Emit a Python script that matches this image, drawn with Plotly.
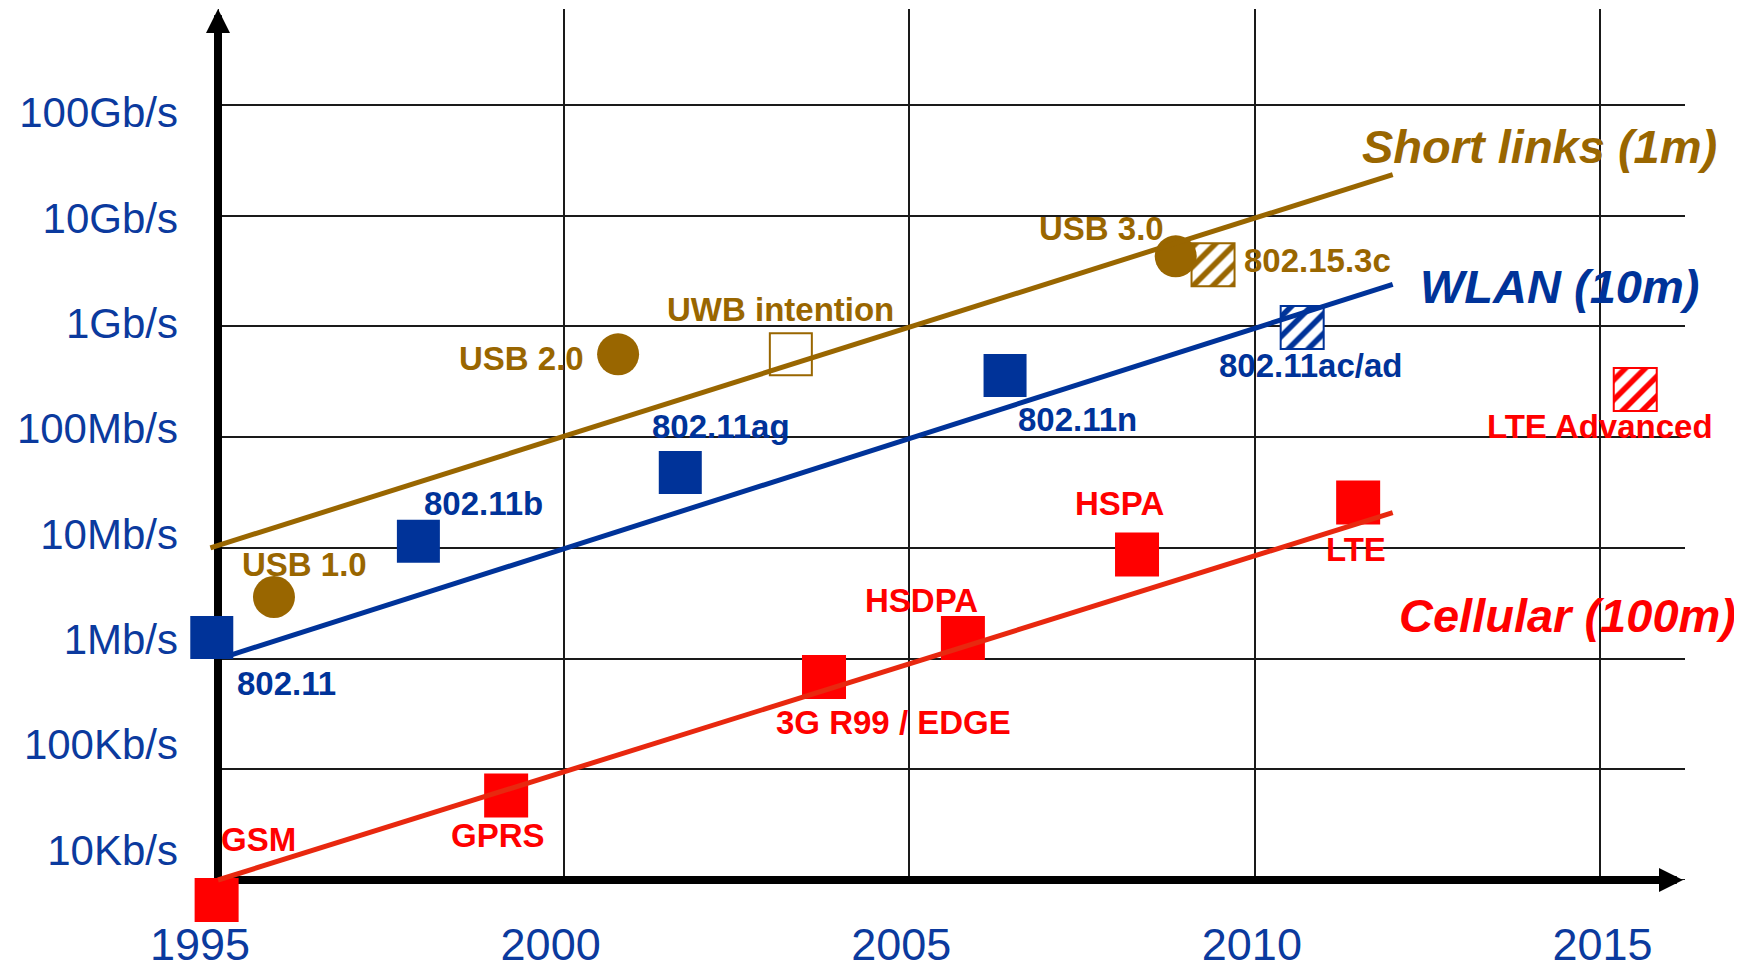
import numpy as np
import plotly.graph_objects as go

BROWN = '#996600'
BLUE = '#003399'
RED = '#FF0000'
RED_LINE = '#E8280F'
TICK_BLUE = '#0B3A9E'
FONT = 'Liberation Sans, Arial, sans-serif'

# axis ticks
year_ticks = [1995, 2000, 2005, 2010, 2015]
year_labels = ['1995', '2000', '2005', '2010', '2015']
rate_ticks = [1e4, 1e5, 1e6, 1e7, 1e8, 1e9, 1e10, 1e11]
rate_labels = ['10Kb/s', '100Kb/s', '1Mb/s', '10Mb/s', '100Mb/s', '1Gb/s', '10Gb/s', '100Gb/s']

# trend lines (start, end)
short_trend_year = [1994.89, 2012.0]
short_trend_rate = [1.0e7, 2.35e10]
wlan_trend_year = [1995.17, 2012.0]
wlan_trend_rate = [1.07e6, 2.4e9]
cell_trend_year = [1995.0, 2012.0]
cell_trend_rate = [1.0e4, 2.08e7]

# short links (1m)
usb_names = ['USB 1.0', 'USB 2.0', 'USB 3.0']
usb_year = [1995.81, 2000.79, 2008.86]
usb_rate = [3.6e6, 5.6e8, 4.3e9]
uwb_names = ['UWB intention']
uwb_year = [2003.29]
uwb_rate = [5.6e8]
sl_next_names = ['802.15.3c']
sl_next_year = [2009.40]
sl_next_rate = [3.6e9]

# WLAN (10m)
wlan_names = ['802.11', '802.11b', '802.11ag', '802.11n']
wlan_year = [1994.91, 1997.90, 2001.69, 2006.39]
wlan_rate = [1.55e6, 1.15e7, 4.8e7, 3.6e8]
wlan_next_names = ['802.11ac/ad']
wlan_next_year = [2010.69]
wlan_next_rate = [9.8e8]

# Cellular (100m)
cell_names = ['GSM', 'GPRS', '3G R99 / EDGE', 'HSDPA', 'HSPA', 'LTE']
cell_year = [1994.98, 1999.17, 2003.77, 2005.78, 2008.30, 2011.50]
cell_rate = [6.6e3, 5.8e4, 6.8e5, 1.53e6, 8.7e6, 2.57e7]
cell_next_names = ['LTE Advanced']
cell_next_year = [2015.51]
cell_next_rate = [2.7e8]

# label offsets in pixels from the marker centre (xshift, yshift)
label_shift = {
    'USB 1.0': (31, 32), 'USB 2.0': (-97, -4), 'USB 3.0': (-74, 28),
    'UWB intention': (-10, 45), '802.15.3c': (104, 4),
    '802.11': (75, -46), '802.11b': (65, 38), '802.11ag': (41, 46),
    '802.11n': (72, -44), '802.11ac/ad': (9, -38),
    'GSM': (42, 60), 'GPRS': (-8, -40), '3G R99 / EDGE': (69, -45),
    'HSDPA': (-41, 38), 'HSPA': (-18, 51), 'LTE': (-2, -47),
    'LTE Advanced': (-35, -37),
}

PX_PER_YEAR = 69.1
PX_PER_DECADE = 110.7
HATCH_PX = 43

# plot window (the page adds an 8px body margin)
X_RANGE = [1994.4935, 2016.23]
Y_RANGE = [3.6387, 11.867]          # log10
X2_RANGE = [1994.7575, 2016.177]    # label axis
Y2_RANGE = [3.3356, 11.982]         # label axis, log10


def hatched_square(x, y, color):
    k = 10 ** (HATCH_PX / 2 / PX_PER_DECADE)
    return go.Bar(
        x=x, y=[v * k - v / k for v in y], base=[v / k for v in y],
        width=HATCH_PX / PX_PER_YEAR,
        marker=dict(color='white', line=dict(color=color, width=2),
                    pattern=dict(shape='/', fgcolor=color, bgcolor='white',
                                 size=14, solidity=0.4, fillmode='replace')),
        showlegend=False, hoverinfo='skip',
    )


fig = go.Figure()

fig.add_trace(hatched_square(sl_next_year, sl_next_rate, BROWN))
fig.add_trace(hatched_square(wlan_next_year, wlan_next_rate, BLUE))
fig.add_trace(hatched_square(cell_next_year, cell_next_rate, RED))

fig.add_trace(go.Scatter(x=usb_year, y=usb_rate, mode='markers', cliponaxis=False,
                         marker=dict(symbol='circle', size=42, color=BROWN)))
fig.add_trace(go.Scatter(x=uwb_year, y=uwb_rate, mode='markers', cliponaxis=False,
                         marker=dict(symbol='square-open', size=42, color=BROWN,
                                     line=dict(color=BROWN, width=2))))
fig.add_trace(go.Scatter(x=wlan_year, y=wlan_rate, mode='markers', cliponaxis=False,
                         marker=dict(symbol='square', size=43, color=BLUE)))
fig.add_trace(go.Scatter(x=cell_year, y=cell_rate, mode='markers', cliponaxis=False,
                         marker=dict(symbol='square', size=44, color=RED)))

# trend lines on top of the markers
for xs, ys, col in [(short_trend_year, short_trend_rate, BROWN),
                    (wlan_trend_year, wlan_trend_rate, BLUE),
                    (cell_trend_year, cell_trend_rate, RED_LINE)]:
    fig.add_trace(go.Scatter(x=xs, y=ys, mode='lines', cliponaxis=False,
                             line=dict(color=col, width=5)))

# invisible traces carrying the label axes
fig.add_trace(go.Scatter(x=[], y=[], xaxis='x2', yaxis='y'))
fig.add_trace(go.Scatter(x=[], y=[], xaxis='x', yaxis='y2'))
fig.update_traces(showlegend=False, hoverinfo='skip')

annotations = []
for names, xs, ys, col in [(usb_names, usb_year, usb_rate, BROWN),
                           (uwb_names, uwb_year, uwb_rate, BROWN),
                           (sl_next_names, sl_next_year, sl_next_rate, BROWN),
                           (wlan_names, wlan_year, wlan_rate, BLUE),
                           (wlan_next_names, wlan_next_year, wlan_next_rate, BLUE),
                           (cell_names, cell_year, cell_rate, RED),
                           (cell_next_names, cell_next_year, cell_next_rate, RED)]:
    for n, x, y in zip(names, xs, ys):
        dx, dy = label_shift[n]
        annotations.append(dict(
            x=x, y=np.log10(y), xref='x', yref='y', text=f'<b>{n}</b>',
            showarrow=False, xshift=dx, yshift=dy,
            font=dict(family=FONT, size=33, color=col)))

# series names next to the end of each trend line
for name, xs, ys, col, dx, dy in [
        ('Short links (1m)', short_trend_year, short_trend_rate, BROWN, 147, 28),
        ('WLAN (10m)', wlan_trend_year, wlan_trend_rate, BLUE, 167, -2),
        ('Cellular (100m)', cell_trend_year, cell_trend_rate, RED, 175, -103)]:
    annotations.append(dict(
        x=xs[-1], y=np.log10(ys[-1]), xref='x', yref='y',
        text=f'<b><i>{name}</i></b>', showarrow=False, xshift=dx, yshift=dy,
        font=dict(family=FONT, size=47, color=col)))

# arrow heads of the two axes
x_tip = 1995 + (1683 - 218) / PX_PER_YEAR
annotations.append(dict(x=1995, y=Y_RANGE[1], xref='x', yref='y', text='',
                        showarrow=True, ax=0, ay=40, arrowhead=2, arrowsize=0.6,
                        arrowwidth=8, arrowcolor='black'))
annotations.append(dict(x=x_tip, y=4, xref='x', yref='y', text='',
                        showarrow=True, ax=-40, ay=0, arrowhead=2, arrowsize=0.6,
                        arrowwidth=8, arrowcolor='black'))

y_lo = 10 ** Y_RANGE[0]
y_hi = 10 ** Y_RANGE[1]
shapes = [
    # hide grid outside the axes
    dict(type='rect', xref='x', yref='y', x0=X_RANGE[0], x1=1995, y0=y_lo, y1=y_hi,
         fillcolor='white', line_width=0, layer='between'),
    dict(type='rect', xref='x', yref='y', x0=X_RANGE[0], x1=X_RANGE[1], y0=y_lo, y1=1e4,
         fillcolor='white', line_width=0, layer='between'),
    # axis lines
    dict(type='line', xref='x', yref='y', x0=1995, x1=1995,
         y0=10 ** (4 - 9 / PX_PER_DECADE), y1=10 ** (Y_RANGE[1] - 16 / PX_PER_DECADE),
         line=dict(color='black', width=8), layer='between'),
    dict(type='line', xref='x', yref='y', x0=1995 - 4 / PX_PER_YEAR, x1=x_tip - 16 / PX_PER_YEAR,
         y0=1e4, y1=1e4, line=dict(color='black', width=8), layer='between'),
]

grid = dict(showgrid=True, gridcolor='#1a1a1a', gridwidth=2, zeroline=False,
            showline=False, ticks='', showticklabels=False, automargin=False)

fig.update_layout(
    template='none',
    width=1734, height=962,
    margin=dict(l=175, r=57, t=1, b=50),
    paper_bgcolor='white', plot_bgcolor='white',
    barmode='overlay',
    showlegend=False,
    xaxis=dict(range=X_RANGE, tickvals=year_ticks, **grid),
    yaxis=dict(type='log', range=Y_RANGE, tickvals=rate_ticks, **grid),
    xaxis2=dict(overlaying='x', side='bottom', anchor='free', position=0.0066,
                range=X2_RANGE, tickvals=year_ticks, ticktext=year_labels,
                showgrid=False, zeroline=False, showline=False, ticks='',
                ticklabelstandoff=0, automargin=False,
                tickfont=dict(family=FONT, size=45, color=TICK_BLUE)),
    yaxis2=dict(overlaying='y', side='left', anchor='x', type='log',
                range=Y2_RANGE, tickvals=rate_ticks, ticktext=rate_labels,
                showgrid=False, zeroline=False, showline=False, ticks='',
                ticklabelstandoff=4, automargin=False,
                tickfont=dict(family=FONT, size=42, color=TICK_BLUE)),
    annotations=annotations,
    shapes=shapes,
)

fig.write_html("out.html")
